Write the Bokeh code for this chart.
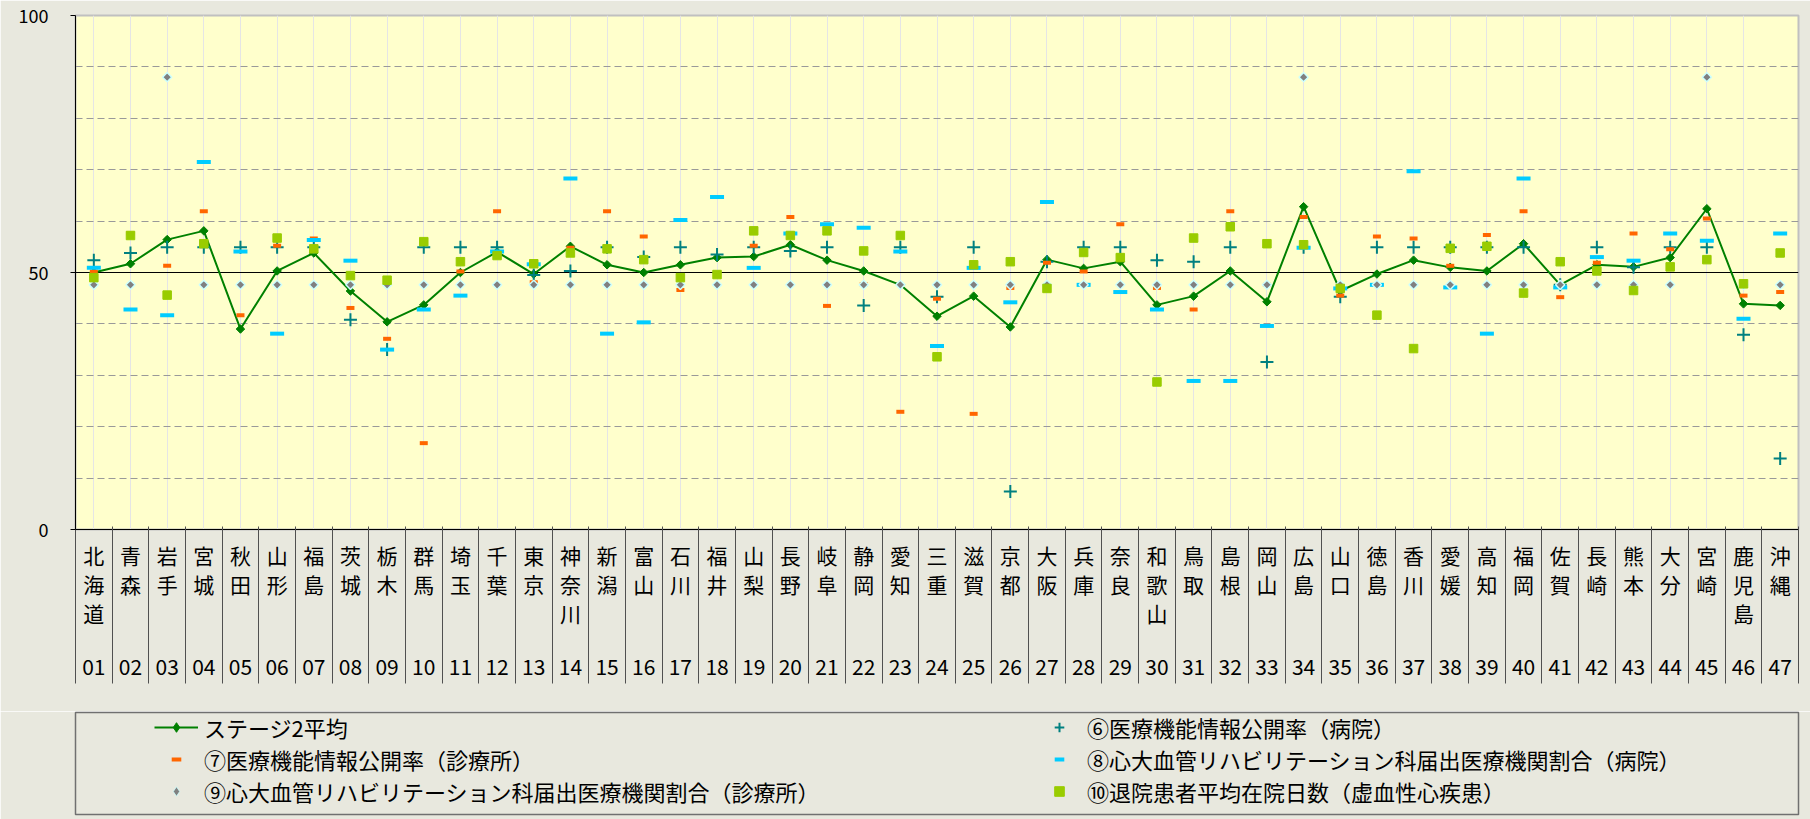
import math
from bokeh.plotting import figure
from bokeh.models import (FactorRange, Range1d, ColumnDataSource, FixedTicker, LinearAxis,
                          CategoricalAxis, Grid, Legend, LegendItem)
from bokeh.layouts import column
from bokeh.embed import file_html
from bokeh.resources import INLINE

NAN = float("nan")

prefs = ["北海道", "青森", "岩手", "宮城", "秋田", "山形", "福島", "茨城", "栃木", "群馬",
         "埼玉", "千葉", "東京", "神奈川", "新潟", "富山", "石川", "福井", "山梨", "長野",
         "岐阜", "静岡", "愛知", "三重", "滋賀", "京都", "大阪", "兵庫", "奈良", "和歌山",
         "鳥取", "島根", "岡山", "広島", "山口", "徳島", "香川", "愛媛", "高知", "福岡",
         "佐賀", "長崎", "熊本", "大分", "宮崎", "鹿児島", "沖縄"]
codes = ["01", "02", "03", "04", "05", "06", "07", "08", "09", "10",
         "11", "12", "13", "14", "15", "16", "17", "18", "19", "20",
         "21", "22", "23", "24", "25", "26", "27", "28", "29", "30",
         "31", "32", "33", "34", "35", "36", "37", "38", "39", "40",
         "41", "42", "43", "44", "45", "46", "47"]

stage2 = [50.0, 51.7, 56.4, 58.1, 39.0, 50.3, 53.8, 46.4, 40.4, 43.7,
          50.0, 54.0, 49.7, 55.1, 51.5, 50.0, 51.5, 52.9, 53.1, 55.4,
          52.4, 50.3, 47.6, 41.5, 45.4, 39.4, 52.5, 50.8, 52.1, 43.7,
          45.4, 50.3, 44.3, 62.8, 46.4, 49.7, 52.4, 51.0, 50.3, 55.6,
          47.6, 51.5, 51.1, 52.9, 62.4, 43.9, 43.6]
hosp6 = [52.4, 53.8, 54.9, 54.9, 54.9, 54.9, 54.9, 40.8, 35.0, 54.9,
         54.9, 54.9, 49.5, 50.3, 54.9, 53.0, 54.9, 53.5, 54.9, 54.2,
         54.9, 43.6, 54.9, 45.3, 54.9, 7.4, 52.1, 54.9, 54.9, 52.4,
         52.1, 54.9, 32.6, 54.9, 45.3, 54.9, 54.9, 54.9, 54.9, 54.9,
         47.6, 54.9, 51.0, 54.9, 54.9, 37.9, 13.8]
clinic7 = [50.2, 57.6, 51.3, 61.9, 41.7, 55.2, 56.6, 43.1, 37.1, 16.8,
           50.2, 61.9, 48.1, 54.8, 61.9, 57.0, 46.6, 49.5, 55.2, 60.8,
           43.5, 47.7, 22.9, 44.9, 22.5, 47.0, 51.9, 50.2, 59.4, 47.0,
           42.8, 61.9, 47.6, 60.8, 45.5, 57.0, 56.6, 51.3, 57.3, 61.9,
           45.2, 51.9, 57.6, 54.5, 60.5, 45.5, 46.2]
hosp8 = [50.9, 42.8, 41.7, 71.5, 54.1, 38.1, 56.3, 52.3, 35.0, 42.8,
         45.5, 54.1, 51.6, 68.3, 38.1, 40.3, 60.2, 64.7, 50.9, 57.6,
         59.4, 58.7, 54.1, 35.7, 50.9, 44.2, 63.7, 47.6, 46.2, 42.8,
         28.9, 28.9, 39.6, 54.8, 46.9, 47.6, 69.7, 47.1, 38.1, 68.3,
         47.1, 53.0, 52.3, 57.6, 56.2, 41.0, 57.6]
clinic9 = [47.6, 47.6, 88.0, 47.6, 47.6, 47.6, 47.6, 47.6, 47.6, 47.6,
           47.6, 47.6, 47.6, 47.6, 47.6, 47.6, 47.6, 47.6, 47.6, 47.6,
           47.6, 47.6, 47.6, 47.6, 47.6, 47.6, 47.6, 47.6, 47.6, 47.6,
           47.6, 47.6, 47.6, 88.0, 47.6, 47.6, 47.6, 47.6, 47.6, 47.6,
           47.6, 47.6, 47.6, 47.6, 88.0, 47.6, 47.6]
days10 = [49.0, 57.2, 45.6, 55.6, NAN, 56.7, 54.6, 49.4, 48.5, 56.0,
          52.1, 53.3, 51.7, 53.8, 54.6, 52.5, 49.0, 49.6, 58.1, 57.2,
          58.1, 54.2, 57.2, 33.6, 51.5, 52.1, 46.9, 53.9, 52.9, 28.7,
          56.7, 58.9, 55.6, 55.4, 46.9, 41.7, 35.2, 54.7, 55.1, 46.0,
          52.1, 50.3, 46.5, 51.1, 52.5, 47.8, 53.8]

y_ticks = [0, 50, 100]
grid_ticks = [10, 20, 30, 40, 60, 70, 80, 90]

series_labels = ["ステージ2平均",
                 "⑥医療機能情報公開率（病院）",
                 "⑦医療機能情報公開率（診療所）",
                 "⑧心大血管リハビリテーション科届出医療機関割合（病院）",
                 "⑨心大血管リハビリテーション科届出医療機関割合（診療所）",
                 "⑩退院患者平均在院日数（虚血性心疾患）"]

BG = "#E8E8DE"
PLOT_BG = "#FFFFCC"
GREEN = "#008000"
TEAL = "#008080"
ORANGE = "#FF6600"
CYAN = "#00CCFF"
GREY = "#808080"
LCYAN = "#CCFFFF"
LIME = "#99CC00"
FONT = "Noto Sans CJK JP"

src = ColumnDataSource(dict(code=codes, pref=prefs, stage2=stage2, h6=hosp6, c7=clinic7,
                            h8=hosp8, c9=clinic9, d10=days10))

p = figure(width=1810, height=711, x_range=FactorRange(*codes), y_range=Range1d(0, 100),
           output_backend="svg", toolbar_location=None, x_axis_location=None,
           min_border_left=75, min_border_right=10, min_border_top=15, min_border_bottom=182)
p.background_fill_color = PLOT_BG
p.border_fill_color = BG
p.outline_line_color = "#C0C0C0"
p.outline_line_width = 2

# grid
p.ygrid.ticker = FixedTicker(ticks=grid_ticks)
p.ygrid.grid_line_color = "#999999"
p.ygrid.grid_line_dash = "7 4"
p.ygrid.grid_line_width = 1
p.add_layout(Grid(dimension=1, ticker=FixedTicker(ticks=[50]), grid_line_color="black",
                  grid_line_width=1))

# y axis
ya = p.yaxis[0]
ya.ticker = FixedTicker(ticks=y_ticks)
ya.major_label_text_font = FONT
ya.major_label_text_font_size = "18px"
ya.major_label_text_color = "black"
ya.major_tick_out = 5
ya.major_tick_in = 0
ya.minor_tick_out = 0
ya.minor_tick_in = 0
ya.axis_line_color = "black"
ya.major_tick_line_color = "black"
ya.major_label_standoff = 22

# category centres / boundaries in the factor range's own coordinates
centers = [i + 0.5 for i in range(len(prefs))]
bounds = list(range(len(prefs) + 1))

# x axes 1-3: prefecture names written vertically, one axis per character row
max_chars = max(len(n) for n in prefs)
for k in range(max_chars):
    ticks = [c for c, n in zip(centers, prefs) if len(n) > k]
    overrides = {c: n[k] for c, n in zip(centers, prefs) if len(n) > k}
    ax = LinearAxis(ticker=FixedTicker(ticks=ticks), major_label_overrides=overrides,
                    major_label_text_font=FONT, major_label_text_font_size="21px",
                    major_label_text_color="black",
                    major_tick_out=0, major_tick_in=0, minor_tick_out=0, minor_tick_in=0,
                    axis_line_color="black" if k == 0 else None,
                    major_label_standoff=10 if k == 0 else -4)
    p.add_layout(ax, "below")

# x axis 4: prefecture codes (the factors)
xa2 = CategoricalAxis(major_label_text_font=FONT, major_label_text_font_size="21px",
                      major_label_text_color="black", major_tick_out=0, major_tick_in=0,
                      axis_line_color=None, major_label_standoff=28)
p.add_layout(xa2, "below")

# x axis 5: category separators
xa3 = LinearAxis(ticker=FixedTicker(ticks=bounds), major_tick_in=151, major_tick_out=6,
                 major_tick_line_color="#505050", axis_line_color=None,
                 major_label_text_font_size="1px", major_label_text_color=None,
                 major_label_standoff=0, minor_tick_in=0, minor_tick_out=0)
p.add_layout(xa3, "below")


def draw_series(fig, source, diamond="square", diamond_angle=math.pi / 4, halo=1.5):
    rl = fig.line("code", "stage2", source=source, line_color=GREEN, line_width=2)
    rlm = fig.scatter("code", "stage2", source=source, marker=diamond, angle=diamond_angle,
                      size=6, fill_color=GREEN, line_color=GREEN)
    r6 = fig.scatter("code", "h6", source=source, marker="cross", size=13, line_color=TEAL,
                     line_width=2)
    r7 = fig.scatter("code", "c7", source=source, marker="dash", size=8, line_color=ORANGE,
                     line_width=4)
    r8 = fig.scatter("code", "h8", source=source, marker="dash", size=14, line_color=CYAN,
                     line_width=4)
    r9 = fig.scatter("code", "c9", source=source, marker=diamond, angle=diamond_angle,
                     size=6.5, fill_color=GREY, line_color=LCYAN, line_width=halo)
    r10 = fig.scatter("code", "d10", source=source, marker="square", size=8.5,
                      fill_color=LIME, line_color=LIME)
    return rl, rlm, r6, r7, r8, r9, r10


draw_series(p, src)

# legend panel: same series, its y range kept away from the data so only the legend shows
lg = figure(width=1810, height=108, x_range=p.x_range, y_range=Range1d(1000, 1001),
            output_backend="svg", toolbar_location=None,
            x_axis_location=None, y_axis_location=None,
            min_border_left=37, min_border_right=12, min_border_top=1, min_border_bottom=5)
lg.grid.visible = False
lg.background_fill_color = BG
lg.border_fill_color = BG
lg.outline_line_color = "#707070"
lg.outline_line_width = 1.5

l_line, l_line_m, l6, l7, l8, l9, l10 = draw_series(lg, src, diamond="diamond",
                                                   diamond_angle=0, halo=0.8)


def make_legend(items, loc):
    return Legend(items=items, location=loc, orientation="vertical",
                  glyph_width=44, glyph_height=24, label_height=30, label_standoff=6,
                  padding=0, spacing=0, margin=0, border_line_color=None,
                  background_fill_alpha=0, label_text_font=FONT,
                  label_text_font_size="22px", label_text_color="black")


leg_a = make_legend([LegendItem(label=series_labels[0], renderers=[l_line, l_line_m]),
                     LegendItem(label=series_labels[2], renderers=[l7]),
                     LegendItem(label=series_labels[4], renderers=[l9])], (79, 7))
leg_b = make_legend([LegendItem(label=series_labels[1], renderers=[l6]),
                     LegendItem(label=series_labels[3], renderers=[l8]),
                     LegendItem(label=series_labels[5], renderers=[l10])], (962, 7))
lg.add_layout(leg_a, "center")
lg.add_layout(leg_b, "center")

layout = column(p, lg, spacing=0)
open("out.html", "w").write(file_html(layout, INLINE))
